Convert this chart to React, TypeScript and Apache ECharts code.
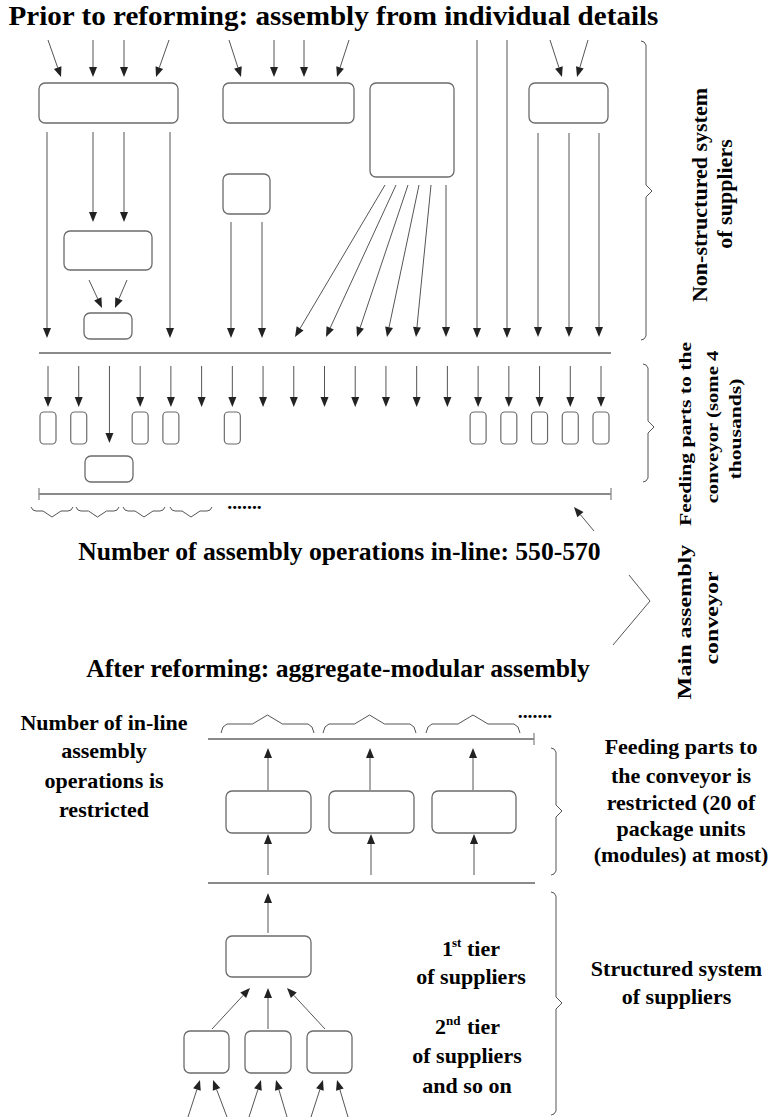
import React, { useEffect, useRef } from "react";
import * as echarts from "echarts";

const W = 769;
const H = 1117;
const FONT = "Liberation Serif";

// Rounded boxes: [x0, y0, x1, y1]
const BOXES: number[][] = [
  [39, 83, 178, 123], [223, 83, 354, 123], [370, 83, 454, 177], [529, 83, 608, 123],
  [64, 231, 152, 270], [84, 313, 132, 339], [223, 174, 270, 214],
  [85, 456, 133, 482],
  [226, 791, 311, 833], [329, 791, 414, 833], [432, 791, 516, 833],
  [226, 936, 311, 977],
  [184, 1031, 229, 1073], [245, 1031, 291, 1073], [307, 1031, 352, 1073],
];

// Feeding slots below the old conveyor line
const FEED_COUNT = 19;
const FEED_BOX_IDX = [0, 1, 3, 4, 6, 14, 15, 16, 17, 18];
const FEED_LONG_IDX = 2;

// Arrows: [x1, y1, x2, y2] (head at x2,y2)
const ARROWS: number[][] = [
  [48, 40, 61, 77], [93, 40, 93, 77], [124, 40, 124, 77], [169, 40, 156, 77],
  [229, 40, 241, 77], [274, 40, 274, 77], [304, 40, 304, 77], [349, 40, 337, 77],
  [550, 40, 562, 77], [588, 40, 577, 77],
  [477, 40, 477, 338], [507, 40, 507, 338],
  [47, 132, 47, 338], [93, 132, 93, 222], [124, 132, 124, 222], [170, 132, 170, 338],
  [89, 280, 102, 308], [127, 280, 115, 308],
  [231, 222, 231, 338], [262, 222, 262, 338],
  [385, 185, 295, 337], [396, 185, 326, 337], [408, 185, 357, 337],
  [419, 185, 387, 337], [431, 185, 416, 337], [446, 185, 446, 337],
  [538, 133, 538, 337], [569, 133, 569, 337], [599, 133, 599, 337],
  [594, 531, 574, 507],
  [268, 790, 268, 748], [370, 790, 370, 748], [473, 790, 473, 748],
  [268, 875, 268, 834], [371, 875, 371, 834], [474, 875, 474, 834],
  [268, 933, 268, 893],
  [212, 1029, 250, 988], [268, 1029, 268, 988], [325, 1029, 287, 988],
  [188, 1117, 200, 1080], [227, 1117, 213, 1080], [249, 1117, 261, 1080],
  [287, 1117, 276, 1080], [311, 1117, 323, 1080], [348, 1117, 337, 1080],
];

// Conveyor lines: [x0, x1, y, tickLeft, tickRight]
const CONVEYORS: number[][] = [
  [39, 611, 353, 0, 0],
  [39, 611, 494, 1, 1],
  [208, 534, 739, 0, 1],
  [208, 535, 883, 0, 0],
];

// Curly braces facing right: [x0, yTop, yBottom, yTip]
const RIGHT_BRACES: number[][] = [
  [641, 41, 340, 191],
  [643, 364, 482, 427],
  [551, 748, 875, 811],
  [551, 892, 1115, 1003],
];
const DOWN_BRACES: number[][] = [[31, 73], [76, 119], [123, 165], [170, 212]];
const UP_BRACES: number[][] = [[221, 314], [323, 416], [426, 520]];
const CHEVRON: number[][] = [[629, 575], [650, 601], [613, 645]];

// Horizontal texts: [text, x, baseline, fontSize, stretch, align]
const HTEXTS: any[][] = [
  ["Prior to reforming: assembly from individual details", 333.5, 25, 28, 1.04, "center"],
  ["Number of assembly operations in-line: 550-570", 339.5, 560, 25, 1.025, "center"],
  ["After reforming: aggregate-modular assembly", 338, 677, 25, 1.025, "center"],
  ["Number of in-line", 104, 730, 22, 1, "center"],
  ["assembly", 104, 758, 22, 1, "center"],
  ["operations is", 104, 788, 22, 1, "center"],
  ["restricted", 104, 817, 22, 1, "center"],
  ["Feeding parts to", 681, 754, 22, 1, "center"],
  ["the conveyor is", 681, 783, 22, 1, "center"],
  ["restricted (20 of", 681, 810, 22, 1, "center"],
  ["package units", 681, 836, 22, 1, "center"],
  ["(modules) at most)", 681, 862, 22, 1, "center"],
  ["Structured system", 676.5, 976, 22, 1, "center"],
  ["of suppliers", 676.5, 1004, 22, 1, "center"],
  ["1", 442, 956, 22, 1, "left"],
  ["st", 452, 947, 13, 1, "left"],
  ["tier", 467, 956, 22, 1, "left"],
  ["of suppliers", 471, 984, 22, 1, "center"],
  ["2", 435, 1034, 22, 1, "left"],
  ["nd", 446, 1025, 13, 1, "left"],
  ["tier", 467, 1034, 22, 1, "left"],
  ["of suppliers", 467, 1063, 22, 1, "center"],
  ["and so on", 467, 1093, 22, 1, "center"],
  [".......", 244.5, 509, 18, 1.1, "center"],
  [".......", 535, 718, 18, 1.1, "center"],
];

// Vertical texts (read bottom to top): [text, baselineX, centerY, fontSize, stretch]
const VTEXTS: any[][] = [
  ["Non-structured system", 707, 195, 22, 1.0],
  ["of suppliers", 732, 194, 22, 1.0],
  ["Feeding parts to the", 691, 434, 17, 1.27],
  ["conveyor (some 4", 718, 427, 17, 1.22],
  ["thousands)", 741, 429, 17, 1.27],
  ["Main assembly", 691, 622, 19, 1.27],
  ["conveyor", 718, 618, 19, 1.26],
];

const BOX_STROKE = "#6b6b6b";
const LINE = "#555";
const HEAD = "#222";
const CONV = "#8a8a8a";

function arrowEls(a: number[]): any[] {
  const [x1, y1, x2, y2] = a;
  const dx = x2 - x1, dy = y2 - y1;
  const len = Math.hypot(dx, dy);
  const ux = dx / len, uy = dy / len;
  const hl = 10, hw = 4;
  const bx = x2 - ux * hl, by = y2 - uy * hl;
  return [
    { type: "line", shape: { x1, y1, x2: bx, y2: by }, style: { stroke: LINE, lineWidth: 1 } },
    {
      type: "polygon",
      shape: { points: [[x2, y2], [bx - uy * hw, by + ux * hw], [bx + uy * hw, by - ux * hw]] },
      style: { fill: HEAD },
    },
  ];
}

function textEl(t: string, x: number, y: number, f: number, s: number, align: string, rot: number) {
  return {
    type: "text",
    x,
    y,
    rotation: rot,
    scaleX: s,
    style: {
      text: t,
      fontSize: f,
      fontWeight: "bold",
      fontFamily: FONT,
      fill: "#000",
      align,
      verticalAlign: "middle",
    },
  };
}

function buildElements(): any[] {
  const els: any[] = [];

  BOXES.forEach(([x0, y0, x1, y1]) => {
    els.push({
      type: "rect",
      shape: { x: x0, y: y0, width: x1 - x0, height: y1 - y0, r: 6 },
      style: { fill: "#fff", stroke: BOX_STROKE, lineWidth: 1.3 },
    });
  });

  for (let i = 0; i < FEED_COUNT; i++) {
    const x = 48 + (i * (601 - 48)) / (FEED_COUNT - 1);
    const yEnd = i === FEED_LONG_IDX ? 443 : 407;
    els.push(...arrowEls([x, 366, x, yEnd]));
    if (FEED_BOX_IDX.indexOf(i) >= 0) {
      els.push({
        type: "rect",
        shape: { x: x - 8, y: 412, width: 16, height: 32, r: 4 },
        style: { fill: "#fff", stroke: BOX_STROKE, lineWidth: 1.2 },
      });
    }
  }

  ARROWS.forEach((a) => els.push(...arrowEls(a)));

  CONVEYORS.forEach(([x0, x1, y, tl, tr]) => {
    els.push({ type: "line", shape: { x1: x0, y1: y, x2: x1, y2: y }, style: { stroke: CONV, lineWidth: 2 } });
    if (tl) els.push({ type: "line", shape: { x1: x0, y1: y - 6, x2: x0, y2: y + 6 }, style: { stroke: CONV, lineWidth: 1.3 } });
    if (tr) els.push({ type: "line", shape: { x1: x1, y1: y - 6, x2: x1, y2: y + 6 }, style: { stroke: CONV, lineWidth: 1.3 } });
  });

  RIGHT_BRACES.forEach(([x0, yT, yB, yM]) => {
    els.push({
      type: "polyline",
      shape: {
        points: [
          [x0, yT], [x0 + 3, yT + 1], [x0 + 5, yT + 4], [x0 + 5, yM - 6], [x0 + 11, yM],
          [x0 + 5, yM + 6], [x0 + 5, yB - 4], [x0 + 3, yB - 1], [x0, yB],
        ],
      },
      style: { fill: "none", stroke: LINE, lineWidth: 1 },
    });
  });

  DOWN_BRACES.forEach(([x0, x1]) => {
    const m = (x0 + x1) / 2;
    els.push({
      type: "polyline",
      shape: {
        points: [[x0, 507], [x0 + 2, 510], [x0 + 5, 511], [m - 9, 511], [m, 517], [m + 9, 511], [x1 - 5, 511], [x1 - 2, 510], [x1, 507]],
      },
      style: { fill: "none", stroke: LINE, lineWidth: 1 },
    });
  });

  UP_BRACES.forEach(([x0, x1]) => {
    const m = (x0 + x1) / 2;
    els.push({
      type: "polyline",
      shape: {
        points: [[x0, 733], [x0 + 2, 727], [x0 + 6, 724], [m - 15, 724], [m, 715], [m + 15, 724], [x1 - 6, 724], [x1 - 2, 727], [x1, 733]],
      },
      style: { fill: "none", stroke: LINE, lineWidth: 1 },
    });
  });

  els.push({ type: "polyline", shape: { points: CHEVRON }, style: { fill: "none", stroke: LINE, lineWidth: 1 } });

  HTEXTS.forEach(([t, x, b, f, s, align]) => {
    els.push(textEl(t, x, b - 0.3375 * f, f, s, align, 0));
  });

  VTEXTS.forEach(([t, bx, cy, f, s]) => {
    els.push(textEl(t, bx - 0.3375 * f, cy, f, s, "center", Math.PI / 2));
  });

  return els;
}

export default function App() {
  const ref = useRef<HTMLDivElement>(null);
  useEffect(() => {
    if (!ref.current) return;
    const chart = echarts.init(ref.current, undefined, { renderer: "svg" });
    chart.setOption({
      animation: false,
      graphic: { elements: buildElements() },
    });
    return () => chart.dispose();
  }, []);
  return (
    <div
      ref={ref}
      style={{ position: "absolute", left: 0, top: 0, width: W, height: H, background: "#fff" }}
    />
  );
}
